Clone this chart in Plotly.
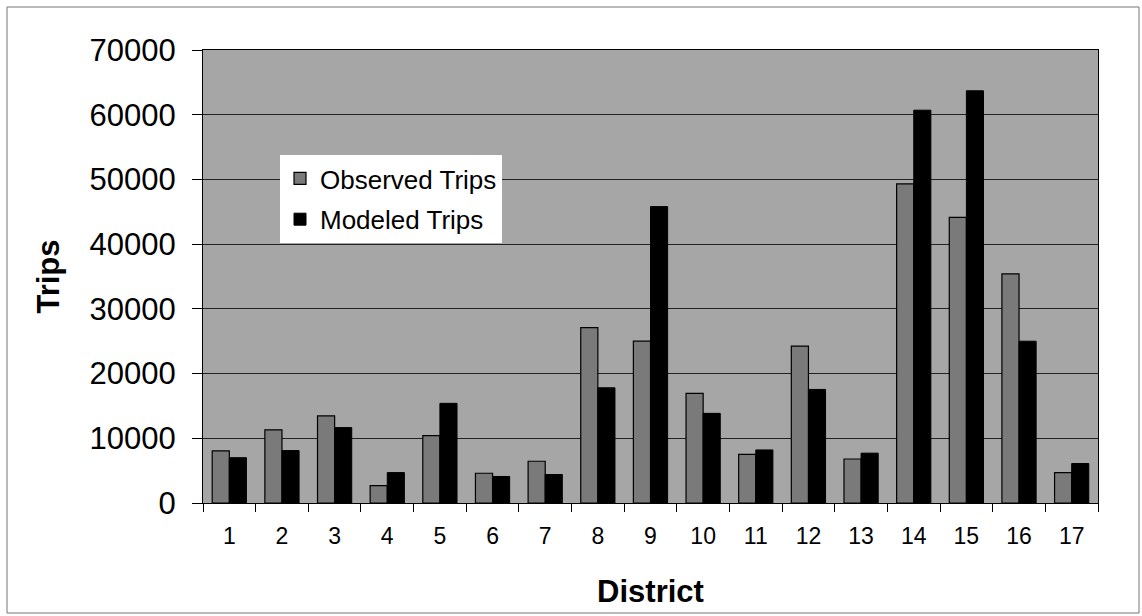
import plotly.graph_objects as go

districts = list(range(1, 18))
tick_labels = [str(d) for d in districts]
observed = [8050, 11300, 13450, 2700, 10400, 4600, 6450, 27100, 25000, 16950,
            7500, 24250, 6800, 49300, 44150, 35400, 4700]
modeled = [7000, 8100, 11650, 4700, 15400, 4100, 4400, 17800, 45800, 13850,
           8200, 17550, 7700, 60700, 63700, 25000, 6100]

W, H = 1142, 616
L, R, T, B = 203, 44, 50, 113
pw, ph = W - L - R, H - T - B

fig = go.Figure()
fig.add_trace(go.Bar(
    x=districts, y=observed, name="Observed Trips", legendgroup="obs",
    marker=dict(color="#7a7a7a", line=dict(color="black", width=1.2)),
))
fig.add_trace(go.Bar(
    x=districts, y=modeled, name="Modeled Trips", legendgroup="mod",
    marker=dict(color="black", line=dict(color="black", width=1)),
))

font = "Liberation Sans, Arial, sans-serif"
fig.update_layout(
    width=W, height=H,
    margin=dict(l=L, r=R, t=T, b=B),
    paper_bgcolor="white",
    plot_bgcolor="#a6a6a6",
    barmode="group", bargap=0.35, bargroupgap=0,
    font=dict(family=font, color="black"),
    showlegend=True,
    legend=dict(
        x=(280 - L) / pw, y=(H - B - 155) / ph, xanchor="left", yanchor="top",
        bgcolor="white", borderwidth=0, font=dict(size=26, family=font),
        traceorder="grouped", tracegroupgap=4,
    ),
    xaxis=dict(
        range=[0.5, 17.5], tickmode="array", tickvals=districts, ticktext=tick_labels,
        ticks="", showgrid=False, zeroline=False,
        tickfont=dict(size=23), ticklabelstandoff=12,
        minor=dict(tick0=0.5, dtick=1, ticks="outside", ticklen=8, tickcolor="black", showgrid=False),
        showline=True, linecolor="black", linewidth=1, mirror=True,
        title=dict(text="<b>District</b>", font=dict(size=31), standoff=32),
    ),
    yaxis=dict(
        range=[0, 70000], dtick=10000, tickformat="d",
        showgrid=True, gridcolor="#222222", gridwidth=1, zeroline=False,
        ticks="outside", ticklen=10, tickcolor="black",
        tickfont=dict(size=31), ticklabelstandoff=10,
        showline=True, linecolor="black", linewidth=1, mirror=True,
        title=dict(text="<b>Trips</b>", font=dict(size=31), standoff=20),
    ),
)

fig.add_shape(type="rect", xref="paper", yref="paper",
              x0=(7 - L) / pw, x1=(1139 - L) / pw,
              y0=-(B - 3) / ph, y1=1 + (T - 7) / ph,
              line=dict(color="#777777", width=1), layer="below")

fig.write_html("out.html")
